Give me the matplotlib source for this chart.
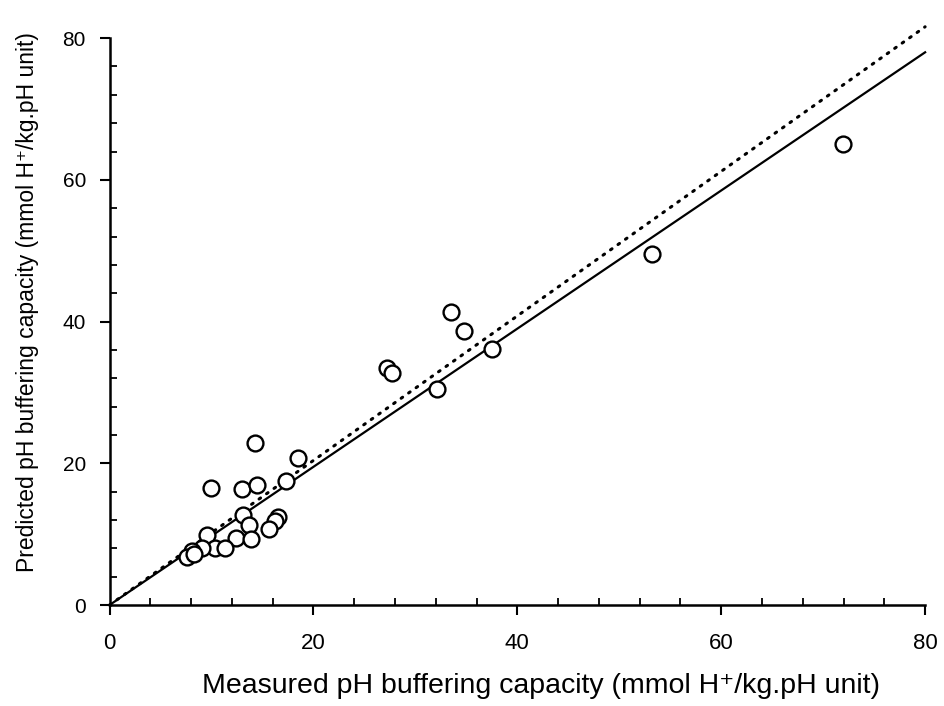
import matplotlib.pyplot as plt
from matplotlib.ticker import MultipleLocator
import numpy as np

plt.rcParams['font.family'] = ['Liberation Sans', 'DejaVu Sans']

# measured vs predicted pH buffering capacity (mmol H+/kg.pH unit)
measured = [71.9, 53.2, 33.5, 34.8, 37.5, 32.1, 27.2, 27.7,
            14.3, 18.5, 10.0, 13.0, 14.5, 17.3,
            13.1, 13.7, 16.5, 16.2, 15.6,
            9.6, 12.4, 13.9, 10.3, 11.3, 9.1, 8.1, 7.6, 8.3]
predicted = [65.0, 49.6, 41.4, 38.7, 36.1, 30.5, 33.4, 32.8,
             22.8, 20.7, 16.5, 16.4, 16.9, 17.5,
             12.7, 11.3, 12.4, 11.9, 10.8,
             9.9, 9.4, 9.3, 8.1, 8.1, 8.1, 7.6, 6.8, 7.2]

# regression line (solid) and reference line (dotted)
line_x = [0, 80]
fit_slope = 0.975
ref_slope = 1.02

fig = plt.figure(figsize=(9.44, 7.06), dpi=100)
ax = fig.add_axes([0.116, 0.143, 0.864, 0.803])

lx = np.array(line_x)
ax.plot(lx, fit_slope * lx, color='black', lw=1.6, clip_on=False, zorder=2)
ax.plot(lx, ref_slope * lx, color='black', lw=2.2, linestyle=(0, (0.6, 2.4)),
        dash_capstyle='round', clip_on=False, zorder=2)
ax.scatter(measured, predicted, s=130, facecolors='white', edgecolors='black',
           linewidths=1.7, zorder=3, clip_on=False)

ax.set_xlim(0, 80)
ax.set_ylim(0, 80)
ax.xaxis.set_major_locator(MultipleLocator(20))
ax.yaxis.set_major_locator(MultipleLocator(20))
ax.xaxis.set_minor_locator(MultipleLocator(4))
ax.yaxis.set_minor_locator(MultipleLocator(4))
ax.tick_params(which='major', direction='out', length=7, width=1.5)
ax.tick_params(axis='x', which='major', pad=13, labelsize=16)
ax.tick_params(axis='y', which='major', pad=10, labelsize=15)
ax.tick_params(which='minor', direction='in', length=5, width=1.3)

for s in ['top', 'right']:
    ax.spines[s].set_visible(False)
for s in ['left', 'bottom']:
    ax.spines[s].set_linewidth(1.8)

ax.set_xlabel('Measured pH buffering capacity (mmol H\u207a/kg.pH unit)',
              fontsize=20.5)
ax.set_ylabel('Predicted pH buffering capacity (mmol H\u207a/kg.pH unit)',
              fontsize=16.5)
ax.xaxis.set_label_coords(0.529, -0.12)
ax.yaxis.set_label_coords(-0.086, 0.535)

plt.savefig('out.png', dpi=100)
